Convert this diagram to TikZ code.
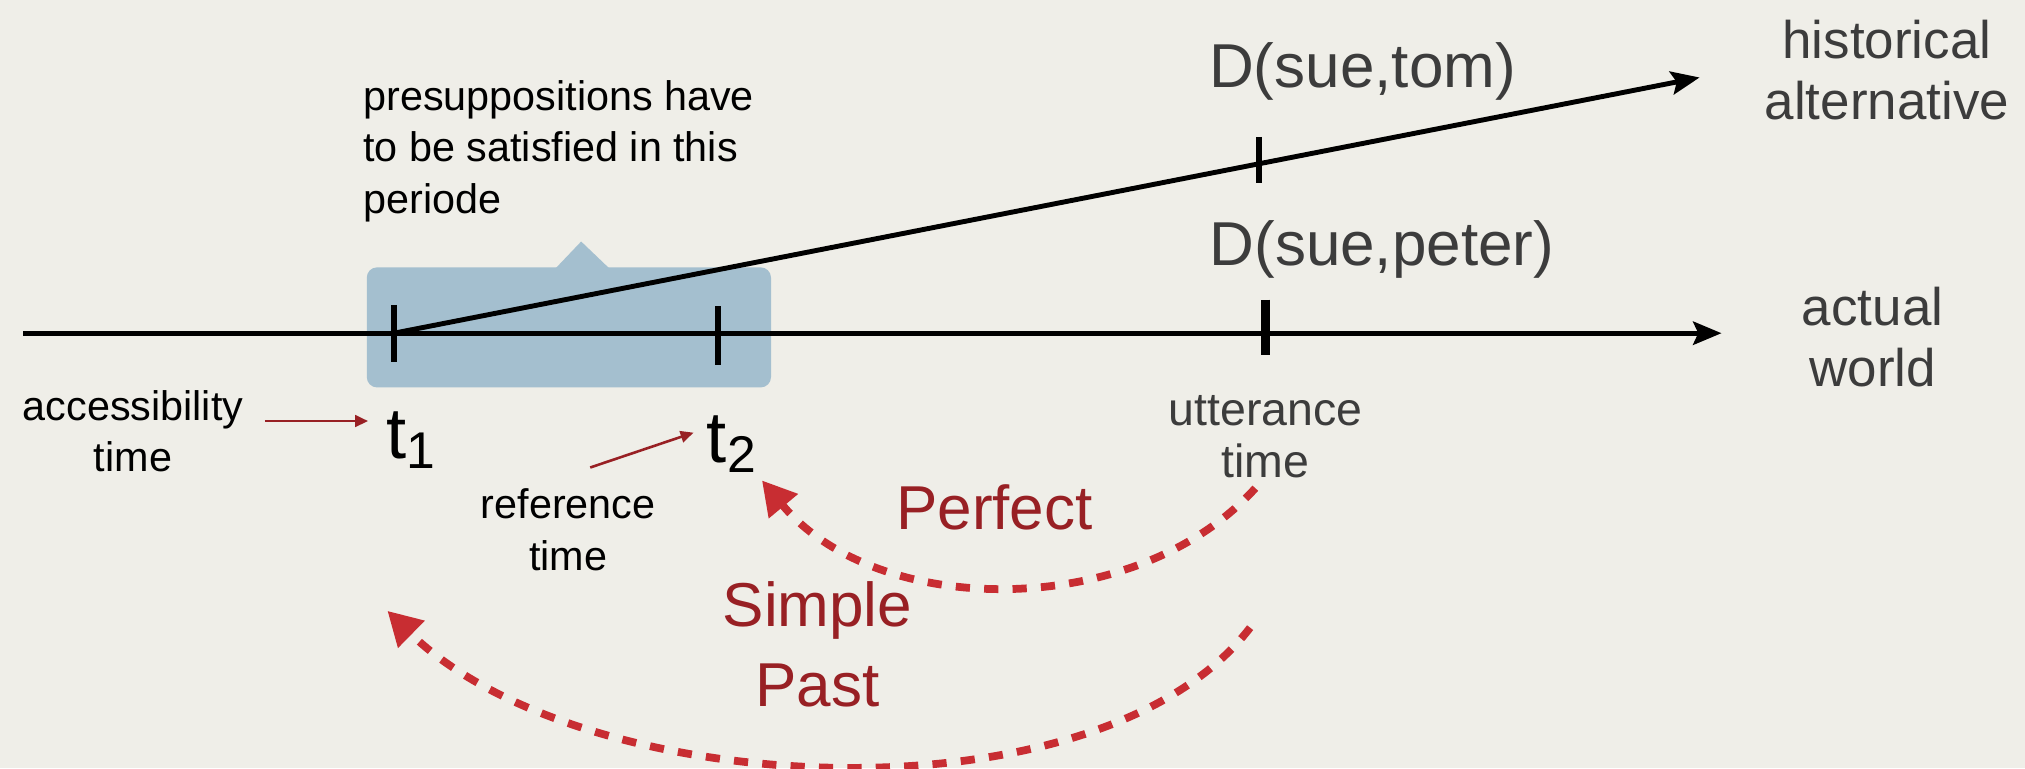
\documentclass[tikz,border=0pt]{standalone}
\usepackage{fontspec}
\setmainfont{Liberation Sans}
\usetikzlibrary{arrows.meta}
\definecolor{bg}{RGB}{239,238,232}
\definecolor{boxblue}{RGB}{164,191,207}
\definecolor{txtgray}{RGB}{60,60,60}
\definecolor{darkred}{RGB}{152,32,36}
\definecolor{dashred}{RGB}{200,45,50}
\begin{document}
\begin{tikzpicture}[x=0.5pt,y=-0.5pt,
  axis/.style={line width=1.9pt,-{Stealth[length=11pt,width=9pt,inset=2pt]}},
  tick/.style={line width=2.3pt},
  small/.style={font=\fontsize{16}{20}\selectfont, text=black, inner sep=0pt, align=center},
  big/.style={font=\fontsize{24}{28}\selectfont, text=txtgray, inner sep=0pt},
  side/.style={font=\fontsize{20.5}{23.5}\selectfont, text=txtgray, inner sep=0pt, align=center},
  tense/.style={font=\fontsize{24}{31}\selectfont, text=darkred, inner sep=0pt, align=center},
  tlabel/.style={anchor=base west, inner sep=0pt, font=\fontsize{28}{28}\selectfont, text=black},
  pointer/.style={darkred, line width=1pt, -{Triangle[length=5pt,width=4.5pt]}},
  tensearrow/.style={dashred, line width=3pt, dash pattern=on 5.5pt off 5.5pt, -{Triangle[length=13pt,width=14pt]}},
]
\fill[bg] (0,0) rectangle (1568,595);
\useasboundingbox (0,0) rectangle (1568,595);

% highlighted period with pointer
\fill[boxblue, rounded corners=4pt] (284,207) rectangle (597,300);
\fill[boxblue] (430,208) -- (450,187) -- (472,208) -- cycle;

% time lines
\coordinate (axs) at (18,258);
\coordinate (axe) at (1333,258);
\coordinate (p1) at (305,258);
\coordinate (he) at (1316,60);
\draw[axis] (axs) -- (axe);
\draw[axis] (p1) -- (he);

% ticks
\draw[tick] (305,236) -- (305,280);
\draw[tick] (556,237) -- (556,283);
\draw[tick, line width=3.3pt] (980,232) -- (980,275);
\draw[tick] (975,106) -- (975,142);

% texts
\node[small, align=left, anchor=west] (pre) at (281,117) {presuppositions have\\to be satisfied in this\\periode};
\node[big] (dtom) at (1055,55) {D(sue,tom)};
\node[big] (dpeter) at (1070,193) {D(sue,peter)};
\node[side] (hist) at (1461,54) {historical\\alternative};
\node[side] (act) at (1450,261) {actual\\world};
\node[small] (acc) at (103,334) {accessibility\\time};
\node[small] (ref) at (440,410) {reference\\time};
\node[font=\fontsize{18}{20}\selectfont, text=txtgray, align=center, inner sep=0pt] (utt) at (980,338) {utterance\\time};
\node[tense] (perf) at (770,393) {Perfect};
\node[tense] (sp) at (633,499) {Simple\\Past};
\node[tlabel] (t1) at (299,355) {t\raisebox{-4pt}{\fontsize{20}{20}\selectfont 1}};
\node[tlabel] (t2) at (547,358) {t\raisebox{-4pt}{\fontsize{20}{20}\selectfont 2}};

% pointers to labels
\coordinate (a1s) at (205,326);
\coordinate (a1e) at (285,326);
\coordinate (a2s) at (457,362);
\coordinate (a2e) at (537,335);
\draw[pointer] (a1s) -- (a1e);
\draw[pointer] (a2s) -- (a2e);

% tense arcs
\coordinate (ps) at (972,378);
\coordinate (pe) at (590,372);
\coordinate (ss) at (968,486);
\coordinate (se) at (300,473);
\draw[tensearrow] (ps) .. controls (880,480) and (680,480) .. (pe);
\draw[tensearrow] (ss) .. controls (850,640) and (450,620) .. (se);
\end{tikzpicture}
\end{document}
